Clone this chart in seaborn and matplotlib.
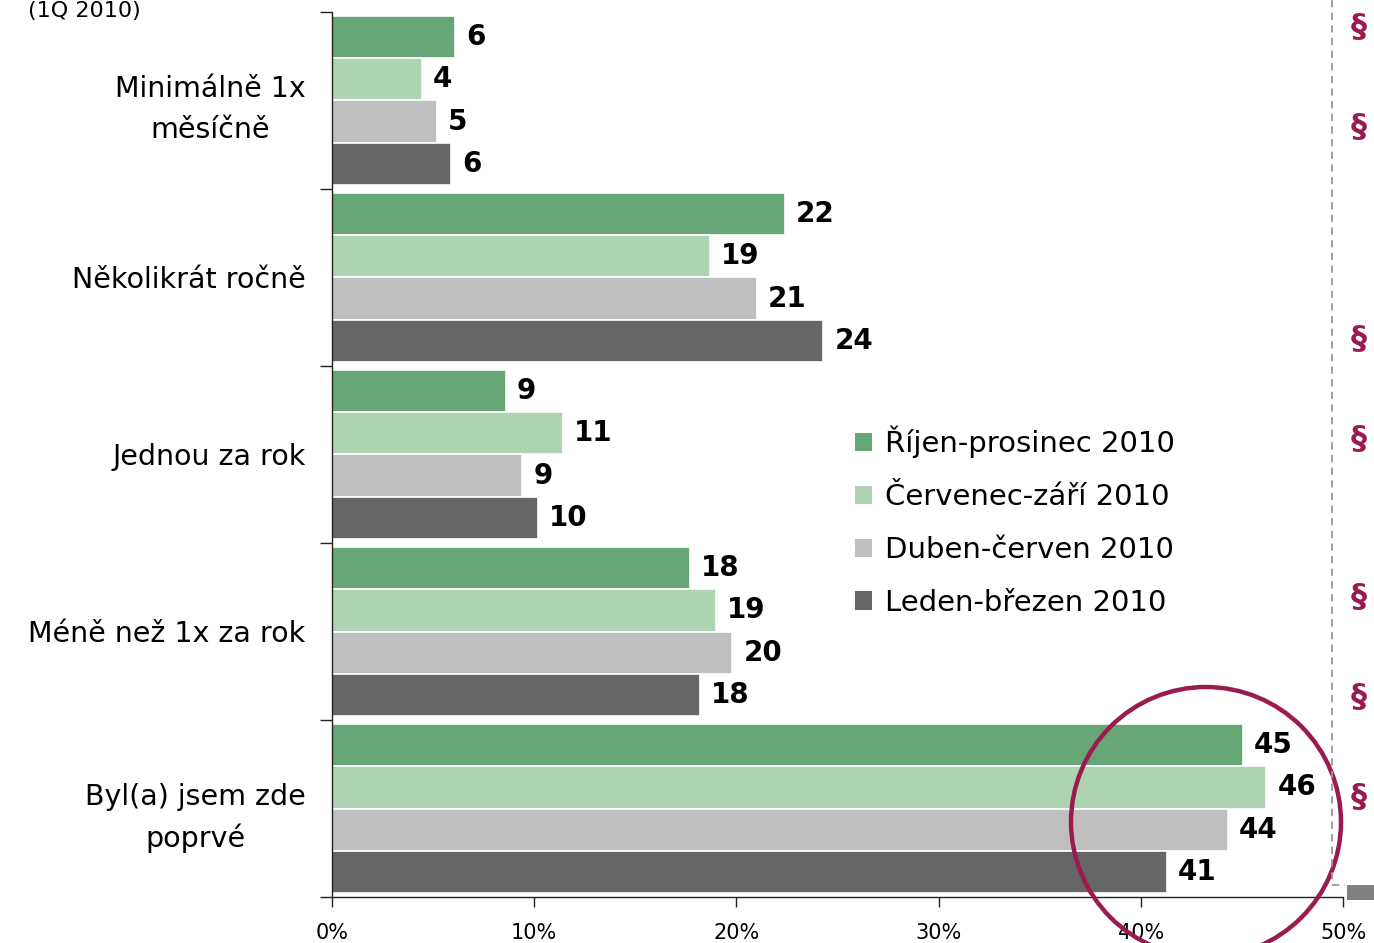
import matplotlib
matplotlib.use("Agg")
import matplotlib.pyplot as plt
import matplotlib.patches as mpatches
from matplotlib.lines import Line2D
import seaborn as sns
import pandas as pd

# ---- data ----
categories = ["Minimálně 1x\nměsíčně", "Několikrát ročně", "Jednou za rok",
              "Méně než 1x za rok", "Byl(a) jsem zde\npoprvé"]
series = ["Říjen-prosinec 2010", "Červenec-září 2010",
          "Duben-červen 2010", "Leden-březen 2010"]
rijen_prosinec = [6.1, 22.4, 8.6, 17.7, 45.05]
cervenec_zari = [4.45, 18.7, 11.4, 19.0, 46.2]
duben_cerven = [5.2, 21.0, 9.4, 19.8, 44.3]
leden_brezen = [5.9, 24.3, 10.2, 18.2, 41.3]
x_ticks = [0, 10, 20, 30, 40, 50]
x_ticklabels = ["0%", "10%", "20%", "30%", "40%", "50%"]
colors = ["#67A777", "#AED3B3", "#BFBFBF", "#666666"]

rows = []
for s, vals in zip(series, [rijen_prosinec, cervenec_zari, duben_cerven, leden_brezen]):
    for c, v in zip(categories, vals):
        rows.append({"kategorie": c, "obdobi": s, "hodnota": v})
df = pd.DataFrame(rows)

sns.set_theme(style="white")
plt.rcParams["font.family"] = ["DejaVu Sans"]
plt.rcParams["text.color"] = "black"
plt.rcParams["xtick.color"] = "black"
plt.rcParams["ytick.color"] = "black"

W, H = 1374, 943
fig = plt.figure(figsize=(W / 100, H / 100), dpi=100)
ax = fig.add_axes([332 / W, 46 / H, (1343 - 332) / W, (897 - 12) / H])

sns.barplot(data=df, y="kategorie", x="hodnota", hue="obdobi", order=categories,
            hue_order=series, palette=colors, orient="h", width=0.95,
            edgecolor="white", linewidth=1.2, saturation=1, ax=ax, legend=False)

for cont in ax.containers:
    ax.bar_label(cont, fmt="%.0f", padding=8, fontsize=20, fontweight="bold",
                 color="black")

ax.set_xlim(0, 50)
ax.set_ylim(len(categories) - 0.5, -0.5)
ax.set_xticks(x_ticks)
ax.set_xticklabels(x_ticklabels, fontsize=15)
ax.set_xlabel("")
ax.set_ylabel("")
ax.set_yticks(range(len(categories)))
ax.set_yticklabels(categories, fontsize=20.5, linespacing=1.55)
for lab in ax.get_yticklabels():
    lab.set_multialignment("center")
ax.set_yticks([i - 0.5 for i in range(len(categories) + 1)], minor=True)
ax.tick_params(axis="y", which="major", left=True, length=0, pad=19)
ax.tick_params(axis="y", which="minor", left=True, length=9, width=1,
               color="#222222", direction="out")
ax.tick_params(axis="x", which="major", bottom=True, length=7, width=1,
               color="#222222", direction="out", pad=12)

for side in ["top", "right"]:
    ax.spines[side].set_visible(False)
for side in ["left", "bottom"]:
    ax.spines[side].set_color("#222222")
    ax.spines[side].set_linewidth(1)

# legend
handles = [mpatches.Patch(facecolor=c, edgecolor="none") for c in colors]
fig.legend(handles, series, loc="upper left",
           bbox_to_anchor=(855 / W, 1 - 426 / H), frameon=False, fontsize=21,
           handlelength=0.6, handleheight=0.6, handletextpad=0.42,
           labelspacing=0.85, borderaxespad=0, borderpad=0)

# decorations
mag = "#9B1B50"
for yy in [28, 127, 340, 440, 597, 697, 797]:
    fig.text(1359 / W, 1 - yy / H, "§", color=mag, fontsize=23, fontweight="bold",
             ha="center", va="center")

fig.add_artist(Line2D([1332 / W, 1332 / W], [1.0, 1 - 885 / H], transform=fig.transFigure,
                      color="#999999", linestyle=(0, (4, 3)), linewidth=1.3))
fig.add_artist(Line2D([1332 / W, 1345 / W], [1 - 885 / H, 1 - 885 / H],
                      transform=fig.transFigure, color="#999999",
                      linestyle=(0, (4, 3)), linewidth=1.3))
fig.add_artist(mpatches.Rectangle((1347 / W, 1 - 900 / H), 27 / W, 15 / H,
                                  transform=fig.transFigure, facecolor="#808080",
                                  edgecolor="none"))
fig.add_artist(mpatches.Ellipse((1206 / W, 1 - 822 / H), 270 / W, 270 / H,
                                transform=fig.transFigure, facecolor="none",
                                edgecolor=mag, linewidth=3.2))

fig.text(28 / W, 1 - 11 / H, "(1Q 2010)", fontsize=16, ha="left", va="center",
         color="black")

fig.savefig("out.png", dpi=100)
